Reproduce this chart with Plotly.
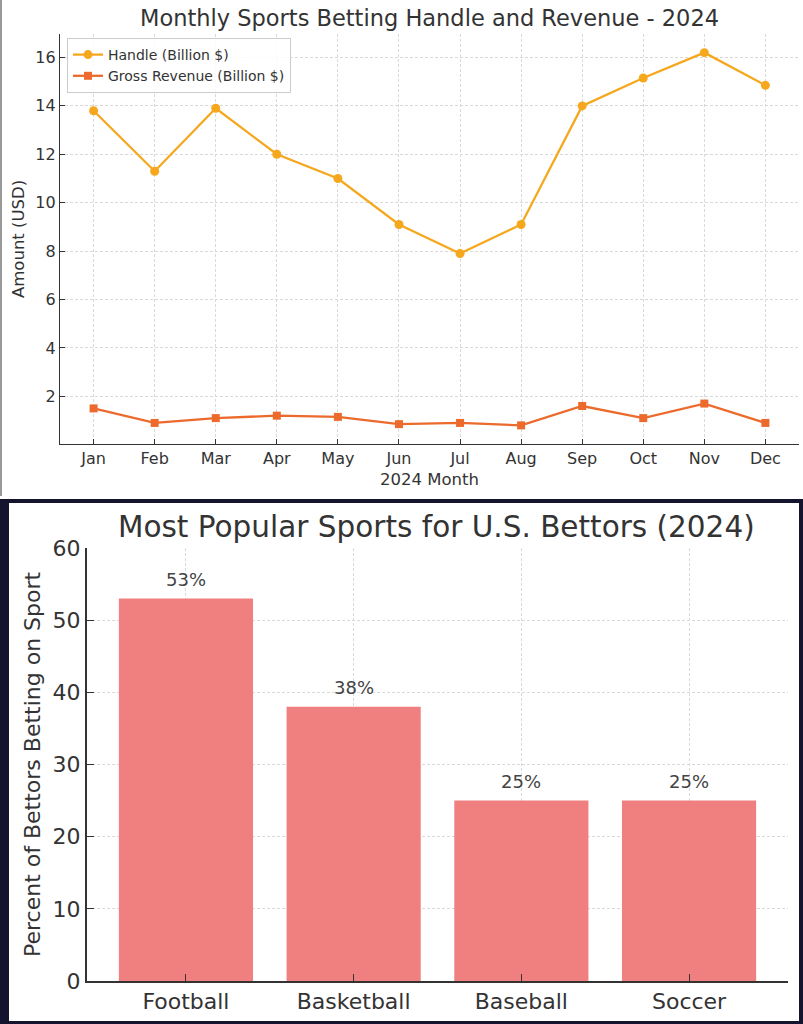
import plotly.graph_objects as go

# ================================
# Data
# ================================
months = ['Jan', 'Feb', 'Mar', 'Apr', 'May', 'Jun',
          'Jul', 'Aug', 'Sep', 'Oct', 'Nov', 'Dec']
handle = [13.8, 11.3, 13.9, 12.0, 11.0, 9.1, 7.9, 9.1, 14.0, 15.15, 16.2, 14.85]
revenue = [1.5, 0.9, 1.1, 1.2, 1.15, 0.85, 0.9, 0.8, 1.6, 1.1, 1.7, 0.9]

sports = ['Football', 'Basketball', 'Baseball', 'Soccer']
pct_bettors = [53, 38, 25, 25]

W, H = 803, 1024
FONT = 'DejaVu Sans'
TXT = '#333333'


def px_x(p):
    return p / W


def px_y(p):
    return 1 - p / H


fig = go.Figure()

# ================================
# Top: monthly handle and revenue
# ================================
fig.add_trace(go.Scatter(x=months, y=handle, mode='lines+markers',
                         name='Handle (Billion $)',
                         line=dict(color='#F5A81E', width=2.3),
                         marker=dict(symbol='circle', size=9, color='#F5A81E'),
                         xaxis='x', yaxis='y'))
fig.add_trace(go.Scatter(x=months, y=revenue, mode='lines+markers',
                         name='Gross Revenue (Billion $)',
                         line=dict(color='#EC6A2C', width=2.3),
                         marker=dict(symbol='square', size=8, color='#EC6A2C'),
                         xaxis='x', yaxis='y'))

# ================================
# Bottom: most popular sports
# ================================
fig.add_trace(go.Bar(x=sports, y=pct_bettors, width=0.8,
                     marker=dict(color='#F08080', line=dict(width=0)),
                     showlegend=False, xaxis='x2', yaxis='y2'))

for s, v in zip(sports, pct_bettors):
    fig.add_annotation(x=s, y=v, xref='x2', yref='y2', text=f'{v}%',
                       showarrow=False, yanchor='bottom', yshift=7,
                       font=dict(family=FONT, size=18, color='#444444'))

grid = dict(showgrid=True, gridcolor='#d9d9d9', griddash='3px,2px', gridwidth=1,
            showline=True, linecolor=TXT, ticks='inside', tickcolor=TXT,
            zeroline=False, mirror=False, automargin=False)

fig.update_layout(
    width=W, height=H,
    margin=dict(l=0, r=0, t=0, b=0, autoexpand=False),
    paper_bgcolor='white', plot_bgcolor='white',
    font=dict(family=FONT, color=TXT),
    xaxis=dict(domain=[px_x(60), px_x(799)], anchor='y',
               range=[-0.55, 11.55], tickfont=dict(size=16),
               linewidth=1.3, ticklen=5, **grid),
    yaxis=dict(domain=[px_y(444), px_y(34)], anchor='x',
               range=[0.03, 16.97], dtick=2, tickfont=dict(size=16),
               linewidth=1.3, ticklen=5, **grid),
    xaxis2=dict(domain=[px_x(87), px_x(788)], anchor='y2',
                range=[-0.59, 3.59], tickfont=dict(size=22),
                linewidth=2, ticklen=7, **grid),
    yaxis2=dict(domain=[px_y(981), px_y(548)], anchor='x2',
                range=[0, 60], dtick=10, tickfont=dict(size=22),
                linewidth=2, ticklen=7, **grid),
    legend=dict(x=px_x(67), y=px_y(38), xanchor='left', yanchor='top',
                bgcolor='rgba(255,255,255,0.85)', bordercolor='#cccccc',
                borderwidth=1, font=dict(size=14), tracegroupgap=0),
)

# dark frame round the bottom chart
fig.add_shape(type='rect', xref='paper', yref='paper',
              x0=0, x1=1, y0=0, y1=px_y(499),
              fillcolor='#15142e', line=dict(width=0), layer='below')
fig.add_shape(type='rect', xref='paper', yref='paper',
              x0=px_x(9), x1=px_x(799), y0=px_y(1021), y1=px_y(503),
              fillcolor='white', line=dict(width=0), layer='below')
# thin grey edge on the top chart
fig.add_shape(type='line', xref='paper', yref='paper',
              x0=px_x(1), x1=px_x(1), y0=px_y(496), y1=1,
              line=dict(color='#9a9a9a', width=2), layer='below')

# titles and axis labels
notes = [
    dict(text='Monthly Sports Betting Handle and Revenue - 2024',
         x=px_x(429), y=px_y(18), size=22.5, angle=0),
    dict(text='2024 Month', x=px_x(429), y=px_y(479), size=16.5, angle=0),
    dict(text='Amount (USD)', x=px_x(18), y=px_y(239), size=16.5, angle=-90),
    dict(text='Most Popular Sports for U.S. Bettors (2024)',
         x=px_x(437), y=px_y(527), size=29.5, angle=0),
    dict(text='Percent of Bettors Betting on Sport',
         x=px_x(32), y=px_y(764), size=22, angle=-90),
]
for n in notes:
    fig.add_annotation(text=n['text'], x=n['x'], y=n['y'],
                       xref='paper', yref='paper', showarrow=False,
                       xanchor='center', yanchor='middle',
                       textangle=n['angle'],
                       font=dict(family=FONT, size=n['size'], color=TXT))

page_js = """
document.documentElement.style.margin='0px';
document.body.style.margin='0px';
document.body.style.overflow='hidden';
"""

fig.write_html("out.html", config={'displayModeBar': False},
               post_script=page_js)
